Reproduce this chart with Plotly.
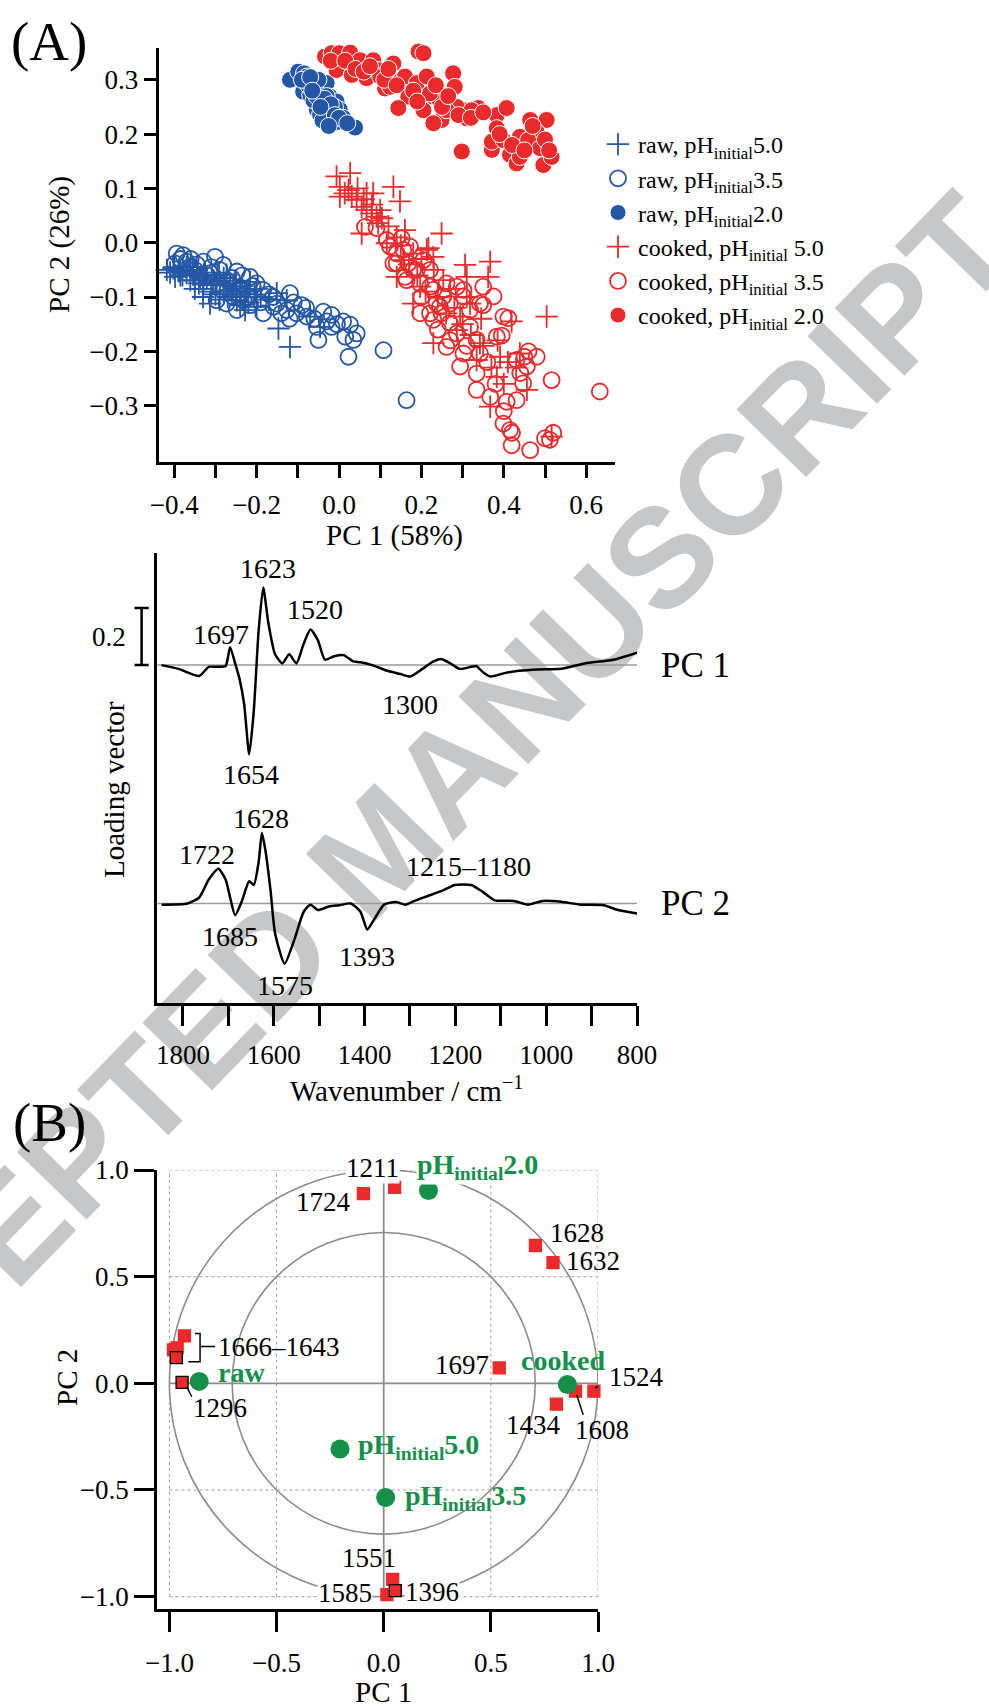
import math
import plotly.graph_objects as go

W, H = 989, 1707
def PX(px): return px / W
def PY(py): return 1 - py / H

BLUE = '#2457a6'
RED = '#ea2a2b'
GREEN = '#14904a'
FONT = 'Liberation Serif'

# ---------------- Panel A (scores) ----------------
raw50_x = [-0.418,-0.402,-0.386,-0.370,-0.354,-0.337,-0.321,-0.305,-0.289,-0.273,-0.257,-0.240,-0.224,-0.313,-0.228,
           -0.151,-0.127,-0.147,-0.119,-0.070,-0.046,-0.398,-0.361,-0.329,-0.297,-0.265,-0.248,-0.345,-0.273,-0.216,-0.200,
           -0.380,-0.350,-0.310,-0.280,-0.260,-0.330,-0.300,-0.250,-0.230,-0.200,-0.170,-0.360,-0.410,-0.390,
           -0.400,-0.385,-0.370,-0.355,-0.340,-0.325,-0.310,-0.295,-0.280,-0.265,-0.250,-0.235,-0.220,-0.205,-0.190,
           -0.330,-0.350,-0.290,-0.270,-0.240]
raw50_y = [-0.050,-0.047,-0.053,-0.056,-0.059,-0.063,-0.066,-0.069,-0.072,-0.075,-0.081,-0.084,-0.090,-0.112,-0.124,
           -0.093,-0.106,-0.158,-0.192,-0.136,-0.155,-0.063,-0.069,-0.075,-0.078,-0.087,-0.106,-0.050,-0.059,-0.072,-0.118,
           -0.060,-0.070,-0.078,-0.090,-0.095,-0.085,-0.095,-0.070,-0.100,-0.085,-0.105,-0.045,-0.055,-0.052,
           -0.045,-0.060,-0.045,-0.050,-0.075,-0.055,-0.090,-0.060,-0.065,-0.075,-0.090,-0.080,-0.110,-0.095,-0.100,
           -0.100,-0.085,-0.105,-0.100,-0.115]

raw35_x = [-0.394,-0.378,-0.398,-0.370,-0.329,-0.301,-0.281,-0.248,-0.216,-0.200,-0.184,-0.257,-0.248,-0.216,-0.184,
           -0.159,-0.119,-0.103,-0.078,-0.054,-0.038,-0.018,-0.018,-0.050,0.010,0.027,0.043,0.015,0.035,0.023,0.108,0.164,
           -0.361,-0.313,-0.297,-0.232,-0.151,-0.127,-0.273,-0.337,-0.350,-0.320,-0.270,-0.240,-0.220,-0.190,-0.140,-0.090,
           -0.060,-0.005,-0.385,-0.360,-0.345,-0.310,-0.290,-0.260,-0.235,-0.210,-0.170,-0.160,-0.110,-0.120,-0.080,-0.030]
raw35_y = [-0.020,-0.023,-0.038,-0.035,-0.035,-0.026,-0.041,-0.053,-0.063,-0.075,-0.087,-0.099,-0.124,-0.115,-0.130,
           -0.118,-0.093,-0.130,-0.136,-0.155,-0.127,-0.133,-0.155,-0.179,-0.145,-0.151,-0.167,-0.173,-0.179,-0.210,-0.198,-0.290,
           -0.044,-0.056,-0.106,-0.106,-0.112,-0.124,-0.112,-0.063,-0.050,-0.060,-0.070,-0.085,-0.100,-0.110,-0.130,-0.115,
           -0.140,-0.150,-0.030,-0.030,-0.040,-0.045,-0.050,-0.065,-0.060,-0.080,-0.095,-0.100,-0.110,-0.140,-0.120,-0.145]

raw20_x = [-0.119,-0.099,-0.085,-0.078,-0.066,-0.087,-0.070,-0.046,-0.030,-0.022,-0.006,-0.038,-0.054,-0.030,-0.014,
           0.002,0.010,0.039,-0.062,-0.046,-0.022,-0.006,-0.040,-0.058,-0.075,-0.050,-0.010,-0.030,
           -0.090,-0.070,-0.055,-0.035,-0.020,-0.045,-0.010,-0.065,0.000,-0.025,0.020]
raw20_y = [0.300,0.315,0.312,0.306,0.294,0.278,0.272,0.284,0.294,0.269,0.260,0.254,0.245,0.235,0.226,
           0.245,0.230,0.212,0.262,0.236,0.240,0.222,0.225,0.285,0.290,0.300,0.250,0.270,
           0.300,0.305,0.270,0.265,0.255,0.250,0.235,0.280,0.230,0.215,0.220]

ck50_x = [-0.006,0.027,0.002,0.014,0.023,0.031,0.002,0.043,0.067,0.083,0.055,0.067,0.079,0.091,0.104,0.055,0.132,0.148,
          0.095,0.160,0.249,0.116,0.213,0.156,0.306,0.367,0.362,0.310,0.504,0.229,0.140,
          0.217,0.180,0.318,0.419,0.229,0.294,0.391,0.334,0.439,0.383,0.456,0.367,0.516,0.253,0.197,0.286,0.342,
          0.170,0.190,0.210,0.240,0.260,0.280,0.300,0.320,0.350,0.370,0.400,0.430,0.080,0.100,0.120,0.140,0.180,0.200,
          0.045,0.060,0.150,0.230,0.270,0.310,0.345,0.385,0.410]
ck50_y = [0.122,0.128,0.103,0.091,0.097,0.085,0.085,0.079,0.091,0.091,0.066,0.060,0.054,0.048,0.045,0.017,0.103,0.076,
          0.036,0.023,0.017,-0.001,-0.013,-0.032,-0.041,-0.035,-0.063,-0.063,-0.136,-0.026,-0.063,
          -0.010,-0.112,-0.112,-0.145,-0.185,-0.136,-0.210,-0.216,-0.204,-0.247,-0.271,-0.302,-0.357,-0.069,-0.081,-0.161,-0.185,
          -0.040,-0.060,-0.090,-0.100,-0.130,-0.120,-0.150,-0.170,-0.190,-0.230,-0.260,-0.230,0.070,0.060,0.030,0.010,-0.020,-0.030,
          0.100,0.080,-0.005,-0.050,-0.085,-0.100,-0.140,-0.180,-0.220]

ck35_x = [0.063,0.091,0.152,0.124,0.140,0.172,0.132,0.168,0.205,0.189,0.221,0.160,0.197,0.229,0.261,0.286,0.302,0.350,
          0.375,0.342,0.237,0.269,0.221,0.249,0.399,0.302,
          0.116,0.156,0.164,0.221,0.350,0.197,0.245,0.229,0.269,0.286,0.318,0.334,0.261,0.302,0.342,0.294,0.334,0.383,
          0.395,0.411,0.431,0.480,0.456,0.447,0.516,0.334,0.367,0.407,0.431,0.399,0.415,0.419,0.464,0.512,0.633,0.140,
          0.180,0.253,0.318,0.200,0.240,0.270,0.310,0.360,0.380,0.450,0.500,0.400,0.420,0.440,0.460,0.520]
ck35_y = [0.029,0.027,0.008,-0.007,-0.020,-0.007,-0.038,-0.038,-0.032,-0.050,-0.050,-0.063,-0.075,-0.087,-0.075,-0.081,
          -0.087,-0.081,-0.099,-0.112,-0.112,-0.112,-0.130,-0.130,-0.136,-0.099,
          0.005,-0.013,-0.069,-0.081,-0.115,-0.130,-0.118,-0.142,-0.148,-0.167,-0.155,-0.179,-0.192,-0.204,-0.204,-0.228,
          -0.241,-0.173,-0.171,-0.139,-0.216,-0.210,-0.228,-0.259,-0.253,-0.271,-0.284,-0.293,-0.290,-0.333,-0.345,-0.373,
          -0.382,-0.363,-0.274,-0.038,-0.050,-0.099,-0.124,-0.100,-0.160,-0.180,-0.190,-0.220,-0.260,-0.210,-0.360,-0.310,
          -0.350,-0.240,-0.200,-0.350]

ck20_x = [-0.034,-0.018,0.001,0.027,0.067,0.051,0.083,-0.006,0.031,0.067,0.095,0.112,0.132,0.148,0.160,0.168,0.193,0.205,
          0.189,0.213,0.144,0.205,0.229,0.241,0.249,0.229,0.277,0.281,0.302,0.310,0.338,0.286,0.298,0.371,0.383,0.407,
          0.371,0.399,0.383,0.439,0.464,0.504,0.480,0.459,0.415,0.431,0.439,0.488,0.496,0.516,0.100,0.124,0.221,0.261,0.322,
          -0.020,0.015,0.040,0.060,0.075,0.110,0.120,0.140,0.180,0.190,0.235,0.250,0.265,0.290,0.320,0.350,0.390,0.420,
          0.450,0.470,0.500,0.510]
ck20_y = [0.343,0.349,0.349,0.350,0.370,0.336,0.336,0.318,0.309,0.303,0.318,0.284,0.330,0.297,0.306,0.269,0.352,0.349,
          0.294,0.306,0.248,0.244,0.269,0.266,0.226,0.220,0.312,0.287,0.244,0.229,0.248,0.250,0.168,0.171,0.235,0.248,
          0.186,0.189,0.211,0.195,0.226,0.226,0.204,0.189,0.162,0.146,0.158,0.174,0.143,0.158,0.306,0.287,0.275,0.244,0.244,
          0.335,0.335,0.320,0.315,0.325,0.300,0.320,0.290,0.280,0.260,0.290,0.250,0.270,0.235,0.230,0.240,0.200,0.180,
          0.170,0.215,0.190,0.170]

score_x_ticks = [-0.4,-0.3,-0.2,-0.1,0.0,0.1,0.2,0.3,0.4,0.5,0.6]
score_x_text = ['−0.4','','−0.2','','0.0','','0.2','','0.4','','0.6']
score_y_ticks = [-0.3,-0.2,-0.1,0.0,0.1,0.2,0.3]
score_y_text = ['−0.3','−0.2','−0.1','0.0','0.1','0.2','0.3']

# ---------------- Panel A (loadings) ----------------
wn_pc1 = [1847,1810,1764,1743,1727,1706,1696,1685,1675,1665,1654,1644,1633,1623,1612,1597,1581,1566,1550,1534,1519,
          1503,1487,1467,1446,1425,1409,1383,1352,1321,1300,1274,1248,1230,1211,1191,1165,1154,1139,1123,1092,1060,
          1019,967,915,852,800]
pc1 = [0.000,-0.013,-0.038,-0.006,-0.006,-0.003,0.063,0.006,-0.050,-0.138,-0.313,-0.163,0.125,0.272,0.150,0.038,0.006,
       0.038,0.006,0.075,0.125,0.088,0.019,0.031,0.035,0.013,0.010,0.000,-0.019,-0.031,-0.040,-0.015,0.013,0.021,0.006,
       -0.013,-0.006,-0.003,-0.025,-0.040,-0.028,-0.020,-0.015,-0.013,0.006,0.019,0.044]
wn_pc2 = [1847,1790,1764,1743,1722,1706,1696,1685,1670,1654,1644,1633,1626,1618,1607,1597,1576,1555,1534,1519,1503,
          1477,1456,1430,1409,1394,1378,1357,1331,1310,1290,1258,1227,1201,1165,1139,1113,1071,1040,1008,967,925,873,842,800]
pc2 = [-0.004,0.000,0.021,0.084,0.122,0.084,0.021,-0.041,0.009,0.078,0.065,0.147,0.247,0.184,0.046,-0.104,-0.211,-0.129,
       -0.029,-0.004,-0.023,-0.010,-0.006,0.000,-0.029,-0.091,-0.054,-0.004,0.005,-0.004,0.009,0.028,0.046,0.065,0.065,
       0.040,0.011,0.009,-0.004,0.009,0.006,-0.004,-0.006,-0.023,-0.035]
pc1_peaks = [('1623',1612,0.338),('1697',1717,0.107),('1520',1508,0.194),('1654',1649,-0.382),('1300',1300,-0.138)]
pc2_peaks = [('1628',1628,0.297),('1722',1748,0.172),('1685',1696,-0.117),('1575',1576,-0.286),('1393',1394,-0.185),
             ('1215–1180',1170,0.128)]
wn_ticks = [1800,1700,1600,1500,1400,1300,1200,1100,1000,900,800]
wn_text = ['1800','','1600','','1400','','1200','','1000','','800']
PC2_OFFSET = -0.836

# ---------------- Panel B (correlation circle) ----------------
var_labels = ['1724','1211','1628','1632','1697','1524','1608','1434','1666','1664','1650','1643','1296','1551','1585','1396']
var_x = [-0.095,0.051,0.708,0.790,0.539,0.981,0.895,0.806,-0.930,-0.981,-0.964,-0.968,-0.941,0.042,0.015,0.054]
var_y = [0.889,0.919,0.646,0.566,0.072,-0.037,-0.037,-0.098,0.222,0.157,0.166,0.120,0.004,-0.919,-0.991,-0.972]
var_outlined = [0,0,0,0,0,0,0,0,0,0,0,1,1,0,0,1]
fac_labels = ['pH<sub>initial</sub>2.0','cooked','raw','pH<sub>initial</sub>5.0','pH<sub>initial</sub>3.5']
fac_x = [0.209,0.857,-0.861,-0.204,0.009]
fac_y = [0.904,-0.006,0.009,-0.308,-0.535]
b_ticks = [-1.0,-0.5,0.0,0.5,1.0]
b_text = ['−1.0','−0.5','0.0','0.5','1.0']

# axis geometry (pixels of the 989x1707 page)
A_XDOM, A_YDOM = [PX(159.3), PX(615)], [PY(462.3), PY(47.5)]
L_XDOM, L_YDOM = [PX(157), PX(637)], [PY(1003), PY(552.5)]
B_XDOM, B_YDOM = [PX(157), PX(598)], [PY(1609), PY(1170)]
B_RANGE = [-1.058, 1.0]

def b_paper(x, y):
    fx = (x - B_RANGE[0]) / (B_RANGE[1] - B_RANGE[0])
    fy = (y - B_RANGE[0]) / (B_RANGE[1] - B_RANGE[0])
    return (B_XDOM[0] + fx * (B_XDOM[1] - B_XDOM[0]), B_YDOM[0] + fy * (B_YDOM[1] - B_YDOM[0]))

fig = go.Figure()

def add_score(x, y, name, color, symbol, size, lw, lc):
    fig.add_trace(go.Scatter(x=x, y=y, mode='markers', name=name, xaxis='x', yaxis='y',
                             cliponaxis=False,
                             marker=dict(symbol=symbol, size=size, color=color, line=dict(width=lw, color=lc))))

add_score(raw50_x, raw50_y, 'raw, pH<sub>initial</sub>5.0', BLUE, 'cross-thin', 16, 1.8, BLUE)
add_score(raw35_x, raw35_y, 'raw, pH<sub>initial</sub>3.5', BLUE, 'circle-open', 16, 1.8, BLUE)
add_score(raw20_x, raw20_y, 'raw, pH<sub>initial</sub>2.0', BLUE, 'circle', 17, 1.0, 'white')
add_score(ck50_x, ck50_y, 'cooked, pH<sub>initial</sub> 5.0', RED, 'cross-thin', 16, 1.8, RED)
add_score(ck35_x, ck35_y, 'cooked, pH<sub>initial</sub> 3.5', RED, 'circle-open', 16, 1.8, RED)
add_score(ck20_x, ck20_y, 'cooked, pH<sub>initial</sub> 2.0', RED, 'circle', 17, 1.0, 'white')

fig.add_trace(go.Scatter(x=wn_pc1, y=pc1, mode='lines', xaxis='x2', yaxis='y2', showlegend=False,
                         line=dict(color='black', width=2.5, shape='spline', smoothing=0.6)))
fig.add_trace(go.Scatter(x=wn_pc2, y=[v + PC2_OFFSET for v in pc2], mode='lines', xaxis='x2', yaxis='y2',
                         showlegend=False, line=dict(color='black', width=2.5, shape='spline', smoothing=0.6)))

fig.add_trace(go.Scatter(x=var_x, y=var_y, mode='markers', xaxis='x3', yaxis='y3', showlegend=False,
                         cliponaxis=False,
                         marker=dict(symbol='square', size=12, color=RED,
                                     line=dict(width=1.3, color=['black' if o else RED for o in var_outlined]))))
fig.add_trace(go.Scatter(x=fac_x, y=fac_y, mode='markers', xaxis='x3', yaxis='y3', showlegend=False,
                         cliponaxis=False, marker=dict(symbol='circle', size=19, color=GREEN)))

tickfont = dict(family=FONT, size=27, color='black')
axis_common = dict(showline=True, linecolor='black', linewidth=2.5, ticks='outside', tickwidth=2.5,
                   tickcolor='black', showgrid=False, zeroline=False, tickfont=tickfont, automargin=False)

fig.update_layout(
    width=W, height=H, margin=dict(l=0, r=0, t=0, b=0, autoexpand=False),
    paper_bgcolor='white', plot_bgcolor='rgba(0,0,0,0)',
    font=dict(family=FONT, color='black'),
    xaxis=dict(axis_common, domain=A_XDOM, range=[-0.4362, 0.6699], anchor='y',
               tickmode='array', tickvals=score_x_ticks, ticktext=score_x_text, ticklen=13, ticklabelstandoff=4),
    yaxis=dict(axis_common, domain=A_YDOM, range=[-0.4044, 0.3595], anchor='x',
               tickmode='array', tickvals=score_y_ticks, ticktext=score_y_text, ticklen=13),
    xaxis2=dict(axis_common, domain=L_XDOM, range=[1857, 800], anchor='y2',
                tickmode='array', tickvals=wn_ticks, ticktext=wn_text, ticklen=20, ticklabelstandoff=6),
    yaxis2=dict(showline=True, linecolor='black', linewidth=2.5, showgrid=False, zeroline=False, automargin=False,
                showticklabels=False, ticks='', domain=L_YDOM, range=[-1.185, 0.395], anchor='x2'),
    xaxis3=dict(axis_common, domain=B_XDOM, range=B_RANGE, anchor='y3',
                tickmode='array', tickvals=b_ticks, ticktext=b_text, ticklen=20, ticklabelstandoff=8),
    yaxis3=dict(axis_common, domain=B_YDOM, range=B_RANGE, anchor='x3',
                tickmode='array', tickvals=b_ticks, ticktext=b_text, ticklen=20),
    legend=dict(x=PX(598), y=PY(122), xanchor='left', yanchor='top', bgcolor='rgba(0,0,0,0)',
                font=dict(family=FONT, size=24, color='black'), tracegroupgap=0),
)

shapes = []
# watermark (behind everything)
ang = math.radians(45.9)
cx, cy, L = 368, 840, 350
shapes.append(dict(type='line', xref='paper', yref='paper', layer='below',
                   x0=PX(cx - L*math.cos(ang)), y0=PY(cy + L*math.sin(ang)),
                   x1=PX(cx + L*math.cos(ang)), y1=PY(cy - L*math.sin(ang)),
                   line=dict(color='rgba(0,0,0,0)', width=1),
                   label=dict(text='ACCEPTED MANUSCRIPT', textposition='middle', yanchor='middle',
                              xanchor='center', padding=0,
                              font=dict(family='Liberation Sans', size=141, color='#c6c7c8', weight='bold'))))
# loading baselines
for off in [0.0, PC2_OFFSET]:
    shapes.append(dict(type='line', xref='x2', yref='y2', x0=1857, x1=800, y0=off, y1=off, layer='below',
                       line=dict(color='#9a9a9a', width=1.5)))
# scale bar 0.2
shapes.append(dict(type='line', xref='paper', yref='y2', x0=PX(141.6), x1=PX(141.6), y0=0, y1=0.2,
                   line=dict(color='black', width=2.5)))
for yv in [0, 0.2]:
    shapes.append(dict(type='line', xref='paper', yref='y2', x0=PX(134.5), x1=PX(148.7), y0=yv, y1=yv,
                       line=dict(color='black', width=2.5)))
# panel B grid & circles
for v in [-1.0, -0.5, 0.5, 1.0]:
    shapes.append(dict(type='line', xref='x3', yref='y3', x0=v, x1=v, y0=-1, y1=1, layer='below',
                       line=dict(color='#a0a0a0', width=1, dash='3px,3px')))
    shapes.append(dict(type='line', xref='x3', yref='y3', x0=-1, x1=1, y0=v, y1=v, layer='below',
                       line=dict(color='#a0a0a0', width=1, dash='3px,3px')))
shapes.append(dict(type='line', xref='x3', yref='y3', x0=0, x1=0, y0=-1, y1=1, layer='below',
                   line=dict(color='#8c8c8c', width=1.8)))
shapes.append(dict(type='line', xref='x3', yref='y3', x0=-1, x1=1, y0=0, y1=0, layer='below',
                   line=dict(color='#8c8c8c', width=1.8)))
for r in [1.0, math.sqrt(0.5)]:
    shapes.append(dict(type='circle', xref='x3', yref='y3', x0=-r, x1=r, y0=-r, y1=r, layer='below',
                       line=dict(color='#8c8c8c', width=1.6)))
# leader lines and bracket
for (xa, ya, xb, yb) in [(-0.919, -0.016, -0.896, -0.063), (0.986, -0.023, 1.048, 0.015),
                         (0.901, -0.055, 0.931, -0.148)]:
    shapes.append(dict(type='line', xref='x3', yref='y3', x0=xa, y0=ya, x1=xb, y1=yb,
                       line=dict(color='black', width=1.5)))
shapes.append(dict(type='path', xref='x3', yref='y3',
                   path='M -0.881,0.234 L -0.857,0.234 L -0.857,0.101 L -0.912,0.101 M -0.857,0.172 L -0.787,0.172',
                   line=dict(color='black', width=1.5)))
fig.update_layout(shapes=shapes)

ann = []
def pann(x, y, text, size, angle=0, xa='center', color='black'):
    ann.append(dict(xref='paper', yref='paper', x=PX(x), y=PY(y), text=text, showarrow=False,
                    xanchor=xa, yanchor='middle', textangle=angle,
                    font=dict(family=FONT, size=size, color=color)))

pann(49, 41, '(A)', 55)
pann(49, 1122, '(B)', 55)
# axis titles
pann(394, 536, 'PC 1 (58%)', 29)
pann(60, 245, 'PC 2 (26%)', 29, -90)
pann(114, 790, 'Loading vector', 29, -90)
pann(406, 1089, 'Wavenumber / cm<sup>−1</sup>', 29)
pann(383, 1692, 'PC 1', 29)
pann(67, 1378, 'PC 2', 29, -90)

lab = dict(family=FONT, size=28, color='black')
for t, x, y in pc1_peaks:
    ann.append(dict(xref='x2', yref='y2', x=x, y=y, text=t, showarrow=False, font=lab,
                    xanchor='center', yanchor='middle'))
for t, x, y in pc2_peaks:
    ann.append(dict(xref='x2', yref='y2', x=x, y=y + PC2_OFFSET, text=t, showarrow=False, font=lab,
                    xanchor='center', yanchor='middle'))
ann.append(dict(xref='paper', yref='y2', x=PX(128), y=0.1, text='0.2', xanchor='right', yanchor='middle',
                showarrow=False, font=dict(family=FONT, size=27, color='black')))
for t, off in [('PC 1', 0.0), ('PC 2', PC2_OFFSET)]:
    ann.append(dict(xref='paper', yref='y2', x=PX(659), y=off, text=t, xanchor='left', yanchor='middle',
                    showarrow=False, font=dict(family=FONT, size=35, color='black')))

b_text_labels = [('1211', -0.052, 1.009, 'center', True), ('1724', -0.281, 0.849, 'center', False),
                 ('1628', 0.900, 0.707, 'center', False), ('1632', 0.975, 0.572, 'center', False),
                 ('1666–1643', -0.779, 0.171, 'left', False), ('1296', -0.764, -0.117, 'center', False),
                 ('1697', 0.366, 0.087, 'center', False), ('1524', 1.18, 0.031, 'center', False),
                 ('1608', 1.017, -0.219, 'center', False), ('1434', 0.698, -0.195, 'center', False),
                 ('1551', -0.067, -0.821, 'center', False), ('1585', -0.181, -0.983, 'center', True),
                 ('1396', 0.224, -0.978, 'center', True)]
for t, x, y, xa, bg in b_text_labels:
    px_, py_ = b_paper(x, y)
    d = dict(xref='paper', yref='paper', x=px_, y=py_, text=t, xanchor=xa, yanchor='middle', showarrow=False,
             font=dict(family=FONT, size=27, color='black'), borderpad=0)
    if bg:
        d['bgcolor'] = 'white'
    ann.append(d)
green_pos = [(0.150, 1.015, True), (0.637, 0.105, False), (-0.780, 0.050, False), (-0.123, -0.295, False),
             (0.095, -0.535, False)]
for t, (x, y, bg) in zip(fac_labels, green_pos):
    px_, py_ = b_paper(x, y)
    d = dict(xref='paper', yref='paper', x=px_, y=py_, text='<b>' + t + '</b>', xanchor='left', yanchor='middle',
             showarrow=False, font=dict(family=FONT, size=28, color=GREEN), borderpad=0)
    if bg:
        d['bgcolor'] = 'white'
    ann.append(d)
fig.update_layout(annotations=ann)

fig.write_html('out.html')
